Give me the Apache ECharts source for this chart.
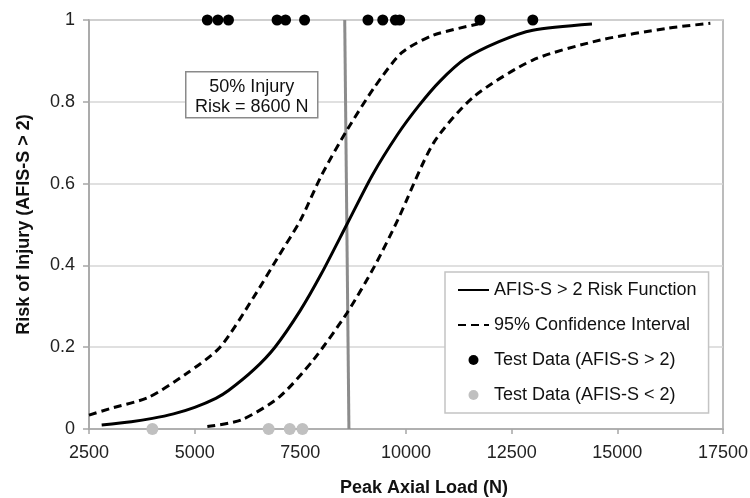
<!DOCTYPE html>
<html>
<head>
<meta charset="utf-8">
<script src="https://cdn.jsdelivr.net/npm/echarts@6/dist/echarts.min.js"></script>
<style>html,body{margin:0;padding:0;background:#fff}#c{width:750px;height:498px}</style>
</head>
<body>
<div id="c"></div>
<script>
// Risk function (Peak axial load N, risk)
const riskX = [2800, 3500, 4000, 4500, 5000, 5500, 5800, 6400, 6900, 7500, 8000, 8600, 9200, 9800, 10300, 10800, 11400, 12200, 13000, 14400];
const riskY = [0.01, 0.018, 0.026, 0.037, 0.053, 0.075, 0.094, 0.145, 0.2, 0.29, 0.38, 0.5, 0.62, 0.72, 0.79, 0.85, 0.905, 0.947, 0.975, 0.99];
// Upper 95% confidence bound
const upperX = [2500, 3000, 3900, 4800, 5600, 6400, 7000, 7500, 8000, 8600, 9250, 9900, 10650, 11700];
const upperY = [0.034, 0.05, 0.077, 0.135, 0.2, 0.323, 0.425, 0.51, 0.62, 0.73, 0.835, 0.92, 0.963, 0.99];
// Lower 95% confidence bound
const lowerX = [5300, 6100, 7000, 7800, 8600, 9250, 9800, 10650, 11600, 13000, 14600, 16200, 17200];
const lowerY = [0.006, 0.022, 0.078, 0.168, 0.283, 0.397, 0.51, 0.699, 0.812, 0.902, 0.951, 0.98, 0.992];
// Test data
const injuredX = [5300, 5550, 5800, 6950, 7150, 7600, 9100, 9450, 9750, 9850, 11750, 13000];
const injuredY = [1, 1, 1, 1, 1, 1, 1, 1, 1, 1, 1, 1];
const uninjuredX = [4000, 6750, 7250, 7550];
const uninjuredY = [0, 0, 0, 0];
// 50% risk marker line
const markerX = [8550, 8650];
const markerY = [1, 0];
// Axis ticks
const xTicks = [2500, 5000, 7500, 10000, 12500, 15000, 17500];
const yTicks = [0, 0.2, 0.4, 0.6, 0.8, 1];
const annotation = ['50% Injury', 'Risk = 8600 N'];

const zip = (a, b) => a.map((v, i) => [v, b[i]]);
const FONT = '"Liberation Sans", Arial, sans-serif';
const hidden = {color: 'rgba(0,0,0,0)', borderWidth: 0, opacity: 0};

const chart = echarts.init(document.getElementById('c'), null, {renderer: 'canvas'});
chart.setOption({
  animation: false,
  textStyle: {fontFamily: FONT},
  grid: {left: 89, right: 27, top: 20, bottom: 69, show: true, borderColor: '#a6a6a6', borderWidth: 1.5,
         containLabel: false, outerBoundsMode: 'none'},
  xAxis: {
    type: 'value', min: xTicks[0], max: xTicks[xTicks.length - 1], interval: xTicks[1] - xTicks[0],
    name: 'Peak Axial Load (N)', nameLocation: 'middle', nameGap: 50,
    nameTextStyle: {fontSize: 18, fontWeight: 'bold', color: '#111', fontFamily: FONT, padding: [0, 0, 0, 36]},
    axisLine: {show: true, lineStyle: {color: '#a6a6a6', width: 1.5}},
    axisTick: {show: true, length: 5, lineStyle: {color: '#a6a6a6', width: 1.5}},
    axisLabel: {fontSize: 18, color: '#222', margin: 15, fontFamily: FONT, formatter: v => String(v)},
    splitLine: {show: false}
  },
  yAxis: {
    type: 'value', min: yTicks[0], max: yTicks[yTicks.length - 1], interval: yTicks[1] - yTicks[0],
    name: 'Risk of Injury (AFIS-S > 2)', nameLocation: 'middle', nameGap: 56, nameRotate: 90,
    nameTextStyle: {fontSize: 18, fontWeight: 'bold', color: '#111', fontFamily: FONT},
    axisLine: {show: true, lineStyle: {color: '#a6a6a6', width: 1.5}},
    axisTick: {show: true, length: 6, lineStyle: {color: '#a6a6a6', width: 1.5}},
    axisLabel: {fontSize: 18, color: '#222', margin: 14, fontFamily: FONT},
    splitLine: {show: true, lineStyle: {color: '#d6d6d6', width: 1.5}}
  },
  legend: {
    orient: 'vertical', left: 445, top: 272,
    data: [
      {name: 'AFIS-S > 2 Risk Function', itemStyle: hidden},
      {name: '95% Confidence Interval', itemStyle: hidden},
      {name: 'Test Data (AFIS-S > 2)'},
      {name: 'Test Data (AFIS-S < 2)'}
    ],
    backgroundColor: '#fff', borderColor: '#c4c4c4', borderWidth: 1.5,
    padding: [9, 12, 9, 12], itemGap: 17, itemWidth: 31, itemHeight: 10,
    textStyle: {fontSize: 18, color: '#111', fontFamily: FONT}
  },
  graphic: [{
    type: 'group', left: 185, top: 71, z: 100,
    children: [
      {type: 'rect', z: 100, shape: {x: 0, y: 0, width: 132, height: 46}, style: {fill: '#fff', stroke: '#8a8a8a', lineWidth: 1.5}},
      {type: 'text', z: 101, x: 66, y: 25, style: {text: annotation.join('\n'), fill: '#111', font: '18px ' + FONT, align: 'center', verticalAlign: 'middle', lineHeight: 20}}
    ]
  }],
  series: [
    {name: 'marker', type: 'line', data: zip(markerX, markerY), symbol: 'none', lineStyle: {color: '#8c8c8c', width: 3}, silent: true},
    {name: 'AFIS-S > 2 Risk Function', type: 'line', data: zip(riskX, riskY), symbol: 'none', smooth: 0.25, lineStyle: {color: '#000', width: 3}, itemStyle: {color: '#000'}},
    {name: '95% Confidence Interval', type: 'line', data: zip(upperX, upperY), symbol: 'none', smooth: 0.25, lineStyle: {color: '#000', width: 3, type: [8, 5]}, itemStyle: {color: '#000'}},
    {name: '95% Confidence Interval', type: 'line', data: zip(lowerX, lowerY), symbol: 'none', smooth: 0.25, lineStyle: {color: '#000', width: 3, type: [8, 5]}, itemStyle: {color: '#000'}},
    {name: 'Test Data (AFIS-S > 2)', type: 'scatter', data: zip(injuredX, injuredY), symbol: 'circle', symbolSize: 11, clip: false, itemStyle: {color: '#000', opacity: 1}, z: 5},
    {name: 'Test Data (AFIS-S < 2)', type: 'scatter', data: zip(uninjuredX, uninjuredY), symbol: 'circle', symbolSize: 12, clip: false, itemStyle: {color: '#c0c0c0', opacity: 1}, z: 5}
  ]
});
</script>
</body>
</html>
